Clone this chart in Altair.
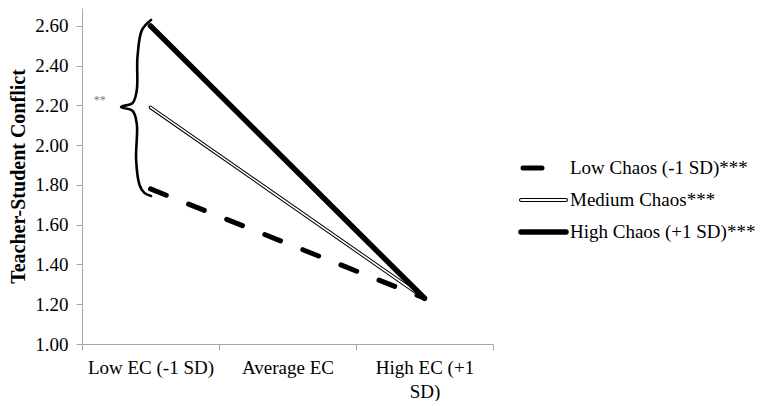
import altair as alt
import pandas as pd

categories = ["Low EC (-1 SD)", "Average EC", "High EC (+1 SD)"]
series = ["Low Chaos (-1 SD)***", "Medium Chaos***", "High Chaos (+1 SD)***"]
at_low_ec = [1.78, 2.19, 2.60]
at_high_ec = [1.23, 1.23, 1.23]

brace_x = [0.004, -0.062, -0.095, -0.100, -0.130, -0.215, -0.130, -0.100, -0.105, -0.080, -0.045, 0.004]
brace_y = [2.630, 2.580, 2.444, 2.278, 2.213, 2.192, 2.172, 2.107, 1.926, 1.800, 1.760, 1.745]

FONT = "Liberation Serif"
AX = "#a6a6a6"

rows = []
for s, a, b in zip(series, at_low_ec, at_high_ec):
    rows.append({"series": s, "ec": categories[0], "value": a})
    rows.append({"series": s, "ec": categories[2], "value": b})
df = pd.DataFrame(rows)

brace_df = pd.DataFrame({"bx": brace_x, "value": brace_y, "o": list(range(len(brace_x)))})
stars_df = pd.DataFrame({"bx": [-0.37], "value": [2.225], "t": ["**"]})

xenc = alt.X(
    "ec:N",
    sort=categories,
    bandPosition=0.5,
    scale=alt.Scale(type="band", domain=categories, paddingInner=0, paddingOuter=0),
    axis=alt.Axis(
        title=None, labelAngle=0, tickBand="extent", domainColor=AX, tickColor=AX,
        tickSize=6, labelPadding=8, labelFontSize=19, labelColor="black", labelFont=FONT,
        labelLineHeight=24,
        labelExpr="datum.label == 'High EC (+1 SD)' ? ['High EC (+1', 'SD)'] : datum.label",
    ),
)
yenc = alt.Y(
    "value:Q",
    scale=alt.Scale(domain=[1.0, 2.69], nice=False, zero=False),
    axis=alt.Axis(
        title="Teacher-Student Conflict", values=[1.0, 1.2, 1.4, 1.6, 1.8, 2.0, 2.2, 2.4, 2.6],
        format=".2f", grid=False, domainColor=AX, tickColor=AX, tickSize=6, labelPadding=8,
        labelFontSize=19, labelColor="black", labelFont=FONT, titleFont=FONT,
        titleFontSize=20, titleFontWeight="bold", titleColor="black", titlePadding=6,
    ),
)

base = alt.Chart(df).encode(x=xenc, y=yenc)

low = base.transform_filter(alt.datum.series == series[0]).mark_line(
    color="black", strokeWidth=5, strokeDash=[17, 24], strokeCap="round")
med_b = base.transform_filter(alt.datum.series == series[1]).mark_line(
    color="black", strokeWidth=3.6, strokeCap="round")
med_w = base.transform_filter(alt.datum.series == series[1]).mark_line(
    color="white", strokeWidth=1.6, strokeCap="round")
high = base.transform_filter(alt.datum.series == series[2]).mark_line(
    color="black", strokeWidth=5.5, strokeCap="round")
lines = alt.layer(low, med_b, med_w, high)

bx = alt.X("bx:Q", scale=alt.Scale(domain=[-0.5, 2.5], nice=False, zero=False), axis=None)

brace = alt.Chart(brace_df).mark_line(
    color="black", strokeWidth=2.6, interpolate="catmull-rom", strokeCap="round"
).encode(x=bx, y=yenc, order="o:Q")
stars = alt.Chart(stars_df).mark_text(
    color="#808080", fontSize=12, font=FONT, align="center", baseline="middle"
).encode(x=bx, y=yenc, text="t:N")
annot = alt.layer(brace, stars)

main = alt.layer(lines, annot).resolve_scale(x="independent").properties(width=411, height=336)

leg_df = pd.DataFrame({"series": series})
ly = alt.Y("series:N", scale=alt.Scale(type="point", domain=series, range=[160, 224], padding=0), axis=None)
lbase = alt.Chart(leg_df).encode(y=ly)
sym_low = lbase.transform_filter(alt.datum.series == series[0]).mark_rule(
    color="black", strokeWidth=5, strokeCap="round").encode(x=alt.value(4), x2=alt.value(23))
sym_med_b = lbase.transform_filter(alt.datum.series == series[1]).mark_rule(
    color="black", strokeWidth=4, strokeCap="round").encode(x=alt.value(2), x2=alt.value(47))
sym_med_w = lbase.transform_filter(alt.datum.series == series[1]).mark_rule(
    color="white", strokeWidth=1.8, strokeCap="round").encode(x=alt.value(2), x2=alt.value(47))
sym_high = lbase.transform_filter(alt.datum.series == series[2]).mark_rule(
    color="black", strokeWidth=5.5, strokeCap="round").encode(x=alt.value(2), x2=alt.value(47))
ltext = lbase.mark_text(
    align="left", baseline="middle", fontSize=19, font=FONT, color="black"
).encode(x=alt.value(51), text="series:N")

legend = alt.layer(sym_low, sym_med_b, sym_med_w, sym_high, ltext).properties(width=230, height=336)

chart = alt.hconcat(main, legend, spacing=24, padding=0).configure_view(stroke=None).configure_text(font=FONT)

chart.save("out.html", embed_options={"renderer": "svg", "actions": False})
